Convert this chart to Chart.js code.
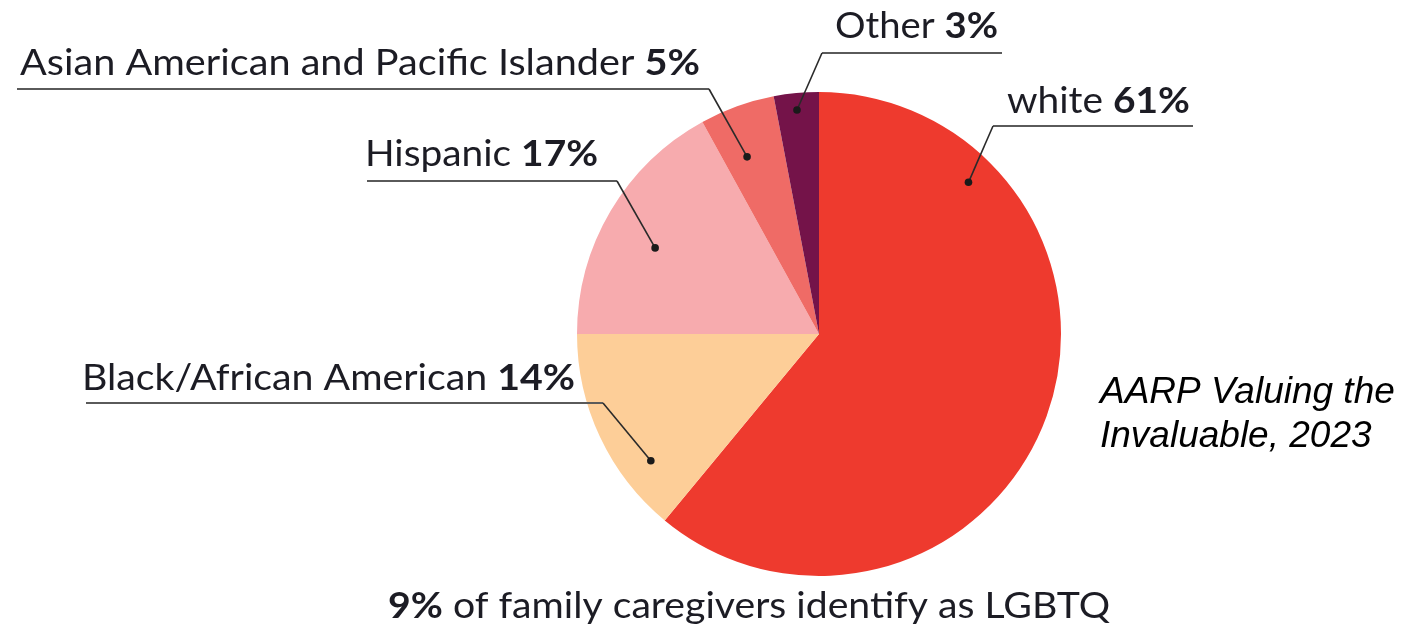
<!DOCTYPE html>
<html>
<head>
<meta charset="utf-8">
<script src="https://cdn.jsdelivr.net/npm/chart.js@4.4.0/dist/chart.umd.min.js"></script>
<style>
  html, body { margin: 0; padding: 0; background: #ffffff; }
  #wrap { width: 1424px; height: 631px; }
</style>
</head>
<body>
<div id="wrap"><canvas id="c" width="1424" height="631"></canvas></div>
<script>
// ---- DATA ----
const categories = ["white", "Black/African American", "Hispanic", "Asian American and Pacific Islander", "Other"];
const shares = [61, 14, 17, 5, 3];
const lgbtqShare = 9;
const footnoteText = "of family caregivers identify as LGBTQ";
const sourceLines = ["AARP Valuing the", "Invaluable, 2023"];

// ---- STYLE / LAYOUT ----
const sliceColors = ["#EE3A2E", "#FDCE98", "#F7ABAE", "#EF6B66", "#741349"];
const FONT = "Lato, 'Source Sans Pro', 'Open Sans', sans-serif";
const TEXT_COLOR = "#1c1c24";
// per-category callout layout (anchor inside slice + label geometry)
const callouts = [
  { frac: 0.203, rf: 0.88, elbow: [993, 126], lineEnd: 1193, tx: 1007, ty: 113, tw: 183 },
  { frac: 0.266, rf: 0.87, elbow: [603, 403], lineEnd: 86,   tx: 82,   ty: 390, tw: 493 },
  { frac: 0.453, rf: 0.765, elbow: [617, 181], lineEnd: 367, tx: 365,  ty: 166, tw: 233 },
  { frac: 0.372, rf: 0.79, elbow: [709, 89],  lineEnd: 17,   tx: 20,   ty: 75,  tw: 680 },
  { frac: 0.48,  rf: 0.93, elbow: [822, 53],  lineEnd: 1002, tx: 835,  ty: 38,  tw: 163 }
];

function drawRich(ctx, parts, x, y, targetW, size) {
  let total = 0;
  parts.forEach(p => {
    ctx.font = (p.bold ? "bold " : "") + size + "px " + FONT;
    p.w = ctx.measureText(p.text).width;
    total += p.w;
  });
  const s = targetW ? targetW / total : 1;
  ctx.save();
  ctx.translate(x, y);
  ctx.scale(s, 1);
  ctx.fillStyle = TEXT_COLOR;
  ctx.textBaseline = "alphabetic";
  ctx.textAlign = "left";
  let cx = 0;
  parts.forEach(p => {
    ctx.font = (p.bold ? "bold " : "") + size + "px " + FONT;
    ctx.fillText(p.text, cx, 0);
    cx += p.w;
  });
  ctx.restore();
}

const calloutPlugin = {
  id: "callouts",
  afterDraw(chart) {
    const ctx = chart.ctx;
    const meta = chart.getDatasetMeta(0);
    meta.data.forEach((arc, i) => {
      const c = callouts[i];
      const p = arc.getProps(["x", "y", "startAngle", "endAngle", "outerRadius"], true);
      const a = p.startAngle + c.frac * (p.endAngle - p.startAngle);
      const ax = p.x + Math.cos(a) * p.outerRadius * c.rf;
      const ay = p.y + Math.sin(a) * p.outerRadius * c.rf;
      // underline
      ctx.save();
      ctx.strokeStyle = "#5a5a5a";
      ctx.lineWidth = 2;
      ctx.beginPath();
      ctx.moveTo(c.lineEnd, c.elbow[1]);
      ctx.lineTo(c.elbow[0], c.elbow[1]);
      ctx.stroke();
      // leader
      ctx.strokeStyle = "#2a2a2a";
      ctx.lineWidth = 1.6;
      ctx.beginPath();
      ctx.moveTo(c.elbow[0], c.elbow[1]);
      ctx.lineTo(ax, ay);
      ctx.stroke();
      ctx.fillStyle = "#1a1a1a";
      ctx.beginPath();
      ctx.arc(ax, ay, 3.8, 0, Math.PI * 2);
      ctx.fill();
      ctx.restore();
      drawRich(ctx, [
        { text: categories[i] + " ", bold: false },
        { text: shares[i] + "%", bold: true }
      ], c.tx, c.ty, c.tw, 37);
    });
    // footnote
    drawRich(ctx, [
      { text: lgbtqShare + "%", bold: true },
      { text: " " + footnoteText, bold: false }
    ], 388, 618, 722, 37);
    // source
    ctx.save();
    ctx.fillStyle = "#000000";
    ctx.font = "italic 37px 'Liberation Sans', Arial, sans-serif";
    ctx.textAlign = "left";
    ctx.textBaseline = "alphabetic";
    sourceLines.forEach((t, k) => ctx.fillText(t, 1100, 403 + k * 44));
    ctx.restore();
  }
};

new Chart(document.getElementById("c"), {
  type: "pie",
  data: {
    labels: categories,
    datasets: [{
      data: shares,
      backgroundColor: sliceColors,
      borderWidth: 0
    }]
  },
  options: {
    responsive: false,
    animation: false,
    layout: { padding: { left: 577, right: 363, top: 92, bottom: 55 } },
    plugins: {
      legend: { display: false },
      tooltip: { enabled: false },
      title: { display: false }
    }
  },
  plugins: [calloutPlugin]
});
</script>
</body>
</html>
